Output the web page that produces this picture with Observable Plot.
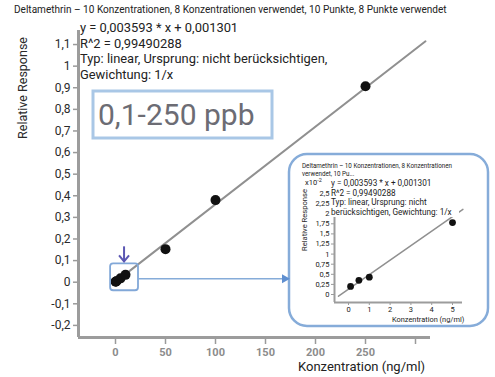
<!DOCTYPE html>
<html>
<head>
<meta charset="utf-8">
<script src="https://cdn.jsdelivr.net/npm/d3@7"></script>
<script src="https://cdn.jsdelivr.net/npm/@observablehq/plot@0.6"></script>
<style>
  body { margin: 0; background: #fff; }
  #chart { position: relative; width: 495px; height: 377px; overflow: hidden; font-family: Roboto, sans-serif; background: #fff; }
  #chart > svg { position: absolute; left: 0; top: 0; overflow: visible; }
</style>
</head>
<body>
<div id="chart"></div>
<script>
// Calibration points (concentration in ng/ml, relative response)
const concentrations = [0.1, 0.5, 1, 5, 10, 50, 100, 250];
const responses = [0.0020, 0.0035, 0.0043, 0.0178, 0.034, 0.153, 0.380, 0.907];

// Linear fit as reported in the equation text
const slope = 0.003593;
const intercept = 0.001301;
const fitRange = [0, 310];
const insetFitRange = [-0.48, 5.5];
const insetMaxConc = 5;

// Axis ticks
const yTicks = [-0.2, -0.1, 0, 0.1, 0.2, 0.3, 0.4, 0.5, 0.6, 0.7, 0.8, 0.9, 1.0, 1.1];
const xTicks = [0, 50, 100, 150, 200, 250, 300];
const xLabelledTicks = [0, 50, 100, 150, 200, 250];
const insetYTicks = [0, 0.25, 0.5, 0.75, 1, 1.25, 1.5, 1.75, 2, 2.25, 2.5];
const insetXTicks = [0, 1, 2, 3, 4, 5];

// Texts
const title = "Deltamethrin – 10 Konzentrationen, 8 Konzentrationen verwendet, 10 Punkte, 8 Punkte verwendet";
const equationLines = ["y = 0,003593 * x + 0,001301", "R^2 = 0,99490288", "Typ: linear, Ursprung: nicht berücksichtigen,", "Gewichtung: 1/x"];
const insetTitleLines = ["Deltamethrin – 10 Konzentrationen, 8 Konzentrationen", "verwendet, 10 Pu..."];
const insetEquationLines = ["y = 0,003593 * x + 0,001301", "R^2 = 0,99490288", "Typ: linear, Ursprung: nicht", "berücksichtigen, Gewichtung: 1/x"];
const rangeLabel = "0,1-250 ppb";
const xLabel = "Konzentration (ng/ml)";
const yLabel = "Relative Response";

const comma = d => String(+(+d).toFixed(2)).replace(".", ",");

const points = concentrations.map((c, i) => ({c, r: responses[i]}));
const fit = fitRange.map(c => ({c, r: slope * c + intercept}));
const insetPoints = points.filter(p => p.c <= insetMaxConc).map(p => ({c: p.c, r: p.r * 100}));
const insetFit = insetFitRange.map(c => ({c, r: (slope * c + intercept) * 100}));

const root = document.getElementById("chart");
const W = 495, H = 377;

// Main calibration plot
const main = Plot.plot({
  width: W, height: H,
  marginLeft: 78, marginRight: 65, marginTop: 30, marginBottom: 40,
  style: {fontFamily: "Roboto, sans-serif", background: "transparent", overflow: "visible"},
  x: {domain: [-37, 315]},
  y: {domain: [-0.256, 1.165]},
  marks: [
    Plot.axisY({ticks: yTicks, tickFormat: comma, tickSize: 5, tickPadding: 3, stroke: "#9a9a9a", strokeWidth: 1.5, fill: "#2a2a2a", fontSize: 12, label: null}),
    Plot.axisX({ticks: xTicks, tickFormat: d => xLabelledTicks.includes(d) ? String(d) : "", tickSize: 7, tickPadding: 4, stroke: "#9a9a9a", strokeWidth: 1.5, fill: "#8c8c8c", fontSize: 11, fontWeight: "bold", label: null}),
    Plot.ruleX([-37], {stroke: "#9c9c9c", strokeWidth: 3}),
    Plot.ruleY([-0.256], {stroke: "#9c9c9c", strokeWidth: 3}),
    Plot.line(fit, {x: "c", y: "r", stroke: "#909090", strokeWidth: 2}),
    Plot.dot(points, {x: "c", y: "r", r: 5, fill: "#111", stroke: "none"})
  ]
});
root.appendChild(main);

function layer() {
  const s = d3.create("svg").attr("width", W).attr("height", H).attr("viewBox", `0 0 ${W} ${H}`);
  root.appendChild(s.node());
  return s;
}

// Inset frame (below the inset plot)
const frame = {x: 289, y: 154, w: 199, h: 172};
const back = layer();
back.append("rect").attr("x", frame.x).attr("y", frame.y).attr("width", frame.w).attr("height", frame.h)
  .attr("rx", 18).attr("fill", "#fff").attr("stroke", "#86acd9").attr("stroke-width", 2.5);

// Inset: low concentration range, responses in units of 10^-2
const inset = Plot.plot({
  width: 200, height: 173,
  marginLeft: 45, marginRight: 27, marginTop: 31, marginBottom: 25,
  style: {fontFamily: "Roboto, sans-serif", background: "transparent", overflow: "visible"},
  x: {domain: [-0.673, 5.48]},
  y: {domain: [-0.198, 2.698]},
  marks: [
    Plot.axisY({ticks: insetYTicks, tickFormat: comma, tickSize: 3, tickPadding: 2, stroke: "#9a9a9a", fill: "#222", fontSize: 7.5, label: null}),
    Plot.axisX({ticks: insetXTicks, tickFormat: comma, tickSize: 3, tickPadding: 1, stroke: "#9a9a9a", fill: "#222", fontSize: 7.5, label: null}),
    Plot.ruleX([-0.673], {stroke: "#9c9c9c", strokeWidth: 2}),
    Plot.ruleY([-0.198], {stroke: "#9c9c9c", strokeWidth: 2}),
    Plot.line(insetFit, {x: "c", y: "r", stroke: "#909090", strokeWidth: 1.5}),
    Plot.dot(insetPoints, {x: "c", y: "r", r: 3.4, fill: "#111", stroke: "none"})
  ]
});
inset.style.left = frame.x + "px";
inset.style.top = frame.y + "px";
root.appendChild(inset);

const front = layer();
front.style("font-family", "Roboto, sans-serif");

// Text squeezed horizontally to a target width (condensed look)
function condensed(g, text, x, y, size, width) {
  const t = g.append("text").attr("x", x).attr("y", y).attr("font-size", size).attr("fill", "#222").text(text);
  const natural = t.node().getComputedTextLength();
  const k = width / natural;
  t.attr("transform", `translate(${x},0) scale(${k},1) translate(${-x},0)`);
  return k;
}

// Title
condensed(front, title, 14, 13, 11.5, 433);

// Fit equation
equationLines.forEach((s, i) => {
  front.append("text").attr("x", 80).attr("y", 32 + i * 15.5).attr("font-size", 12.9).attr("fill", "#222").text(s);
});

// Concentration range badge
front.append("rect").attr("x", 93).attr("y", 91).attr("width", 179).attr("height", 47)
  .attr("fill", "#fff").attr("stroke", "#a9c7e6").attr("stroke-width", 3);
front.append("text").attr("x", 98).attr("y", 125).attr("font-size", 30).attr("fill", "#6c6c74").text(rangeLabel);

// Axis titles
front.append("text").attr("transform", "translate(27,88) rotate(-90)").attr("text-anchor", "middle")
  .attr("font-size", 12.5).attr("fill", "#2a2a2a").text(yLabel);
front.append("text").attr("x", 298).attr("y", 371).attr("font-size", 13).attr("fill", "#222").text(xLabel);

// Zoom callout around the low concentrations
const xs = main.scale("x"), ys = main.scale("y");
const cluster = points.filter(p => p.c <= 10);
const bx0 = xs.apply(d3.min(cluster, p => p.c)) - 5;
const bx1 = xs.apply(d3.max(cluster, p => p.c)) + 13;
const by0 = ys.apply(d3.max(cluster, p => p.r)) - 11;
const by1 = ys.apply(d3.min(cluster, p => p.r)) + 9;
front.append("rect").attr("x", bx0).attr("y", by0).attr("width", bx1 - bx0).attr("height", by1 - by0)
  .attr("rx", 3).attr("fill", "none").attr("stroke", "#82a8d8").attr("stroke-width", 1.8);
const cy = (by0 + by1) / 2 + 2;
front.append("line").attr("x1", bx1).attr("x2", frame.x - 6).attr("y1", cy).attr("y2", cy)
  .attr("stroke", "#86acd9").attr("stroke-width", 1.6);
front.append("path").attr("d", `M${frame.x - 7},${cy - 4.5}L${frame.x + 1},${cy}L${frame.x - 7},${cy + 4.5}Z`).attr("fill", "#5f8fd0");
const ax = (bx0 + bx1) / 2;
front.append("line").attr("x1", ax).attr("x2", ax).attr("y1", by0 - 17).attr("y2", by0 - 2)
  .attr("stroke", "#5b57b3").attr("stroke-width", 2);
front.append("path").attr("d", `M${ax - 5},${by0 - 8}L${ax},${by0 - 2}L${ax + 5},${by0 - 8}`)
  .attr("fill", "none").attr("stroke", "#5b57b3").attr("stroke-width", 2);

// Inset texts
const k = condensed(front, insetTitleLines[0], 302, 168, 6.4, 150);
const t2 = front.append("text").attr("x", 302).attr("y", 176.5).attr("font-size", 6.4).attr("fill", "#222").text(insetTitleLines[1]);
t2.attr("transform", `translate(302,0) scale(${k},1) translate(-302,0)`);

const sup = front.append("text").attr("x", 305).attr("y", 185).attr("font-size", 7.5).attr("fill", "#222");
sup.append("tspan").text("x10");
sup.append("tspan").attr("dy", -3).attr("font-size", 5.5).text("-2");

front.append("rect").attr("x", 330).attr("y", 178).attr("width", 129).attr("height", 39).attr("fill", "#fff");
insetEquationLines.forEach((s, i) => {
  front.append("text").attr("x", 331).attr("y", 186 + i * 9.6).attr("font-size", 8.2).attr("fill", "#222").text(s);
});

front.append("text").attr("transform", "translate(307,220) rotate(-90)").attr("text-anchor", "middle")
  .attr("font-size", 7.6).attr("fill", "#2a2a2a").text(yLabel);

front.append("rect").attr("x", 391).attr("y", 315).attr("width", 81).attr("height", 9).attr("fill", "#fff");
front.append("text").attr("x", 392).attr("y", 322).attr("font-size", 7.4).attr("fill", "#222").text(xLabel);
</script>
</body>
</html>
